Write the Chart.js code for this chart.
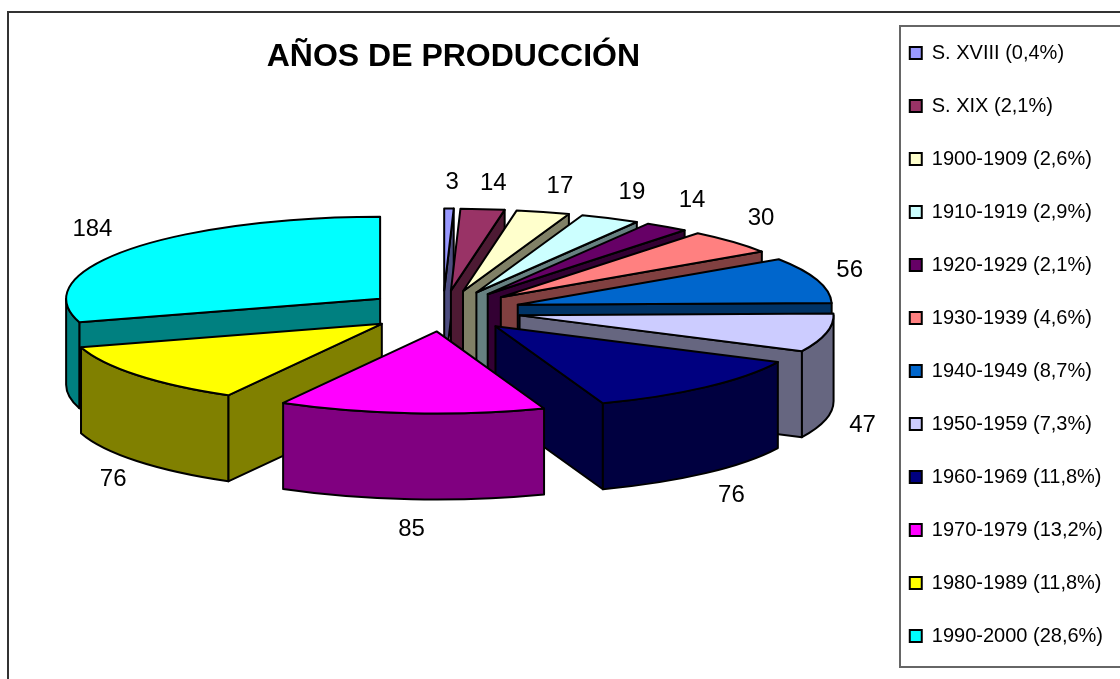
<!DOCTYPE html>
<html lang="es">
<head>
  <meta charset="UTF-8">
  <title>Años de producción</title>
  <script src="https://cdn.jsdelivr.net/npm/chart.js@4/dist/chart.umd.js"></script>
  <style>
    body { margin: 0; background: #fff; }
    canvas { display: block; }
  </style>
</head>
<body>
  <canvas id="mychart" width="1120" height="679"></canvas>

  <script type="text/javascript">
    const categories = ['S. XVIII', 'S. XIX', '1900-1909', '1910-1919', '1920-1929', '1930-1939',
      '1940-1949', '1950-1959', '1960-1969', '1970-1979', '1980-1989', '1990-2000'];
    const values = [3, 14, 17, 19, 14, 30, 56, 47, 76, 85, 76, 184];
    const percents = ['0,4', '2,1', '2,6', '2,9', '2,1', '4,6', '8,7', '7,3', '11,8', '13,2', '11,8', '28,6'];
    const topColors = ['#9999ff', '#993366', '#ffffcc', '#ccffff', '#660066', '#ff8080',
      '#0066cc', '#ccccff', '#000080', '#ff00ff', '#ffff00', '#00ffff'];
    const sideColors = ['#4d4d80', '#4d1a33', '#808066', '#668080', '#330033', '#804040',
      '#003366', '#666680', '#000040', '#800080', '#808000', '#008080'];

    const legendLabels = categories.map((c, i) => c + ' (' + percents[i] + '%)');

    // where the flattened pie sits on the page
    const pieX = 443, pieY = 311, pieRx = 314, pieRy = 82, pieDepth = 86;

    // the pie controller works out the angles, we only tilt and extrude its arcs
    const pie3d = {
      id: 'pie3d',
      beforeDraw(chart) {
        const ctx = chart.ctx;
        ctx.save();
        ctx.fillStyle = '#fff';
        ctx.fillRect(0, 0, chart.width, chart.height);
        ctx.strokeStyle = '#333';
        ctx.lineWidth = 2;
        ctx.strokeRect(8, 12, 1200, 800);
        ctx.strokeStyle = '#666';
        ctx.strokeRect(900, 26, 300, 641);
        ctx.restore();
      },
      beforeDatasetDraw(chart, args) {
        const ctx = chart.ctx;
        const arcs = args.meta.data;
        const order = arcs.map((a, i) => i).sort((a, b) => depthOf(arcs[a]) - depthOf(arcs[b]));
        ctx.save();
        ctx.lineWidth = 2;
        ctx.lineJoin = 'round';
        ctx.strokeStyle = '#000';
        order.forEach((i) => drawSlice(ctx, arcs[i], i));
        ctx.restore();
        drawValues(ctx, arcs);
        return false;
      }
    };

    function midAngle(arc) {
      return (arc.startAngle + arc.endAngle) / 2;
    }

    function depthOf(arc) {
      return Math.sin(midAngle(arc));
    }

    // arc space to page: returns the apex of a slice
    function project(arc) {
      const shift = arc.options.offset / 4 / arc.outerRadius;
      const mid = midAngle(arc);
      return {
        x: pieX + Math.cos(mid) * shift * pieRx,
        y: pieY + Math.sin(mid) * shift * pieRy
      };
    }

    function rim(p, angle, drop) {
      return [p.x + Math.cos(angle) * pieRx, p.y + Math.sin(angle) * pieRy + (drop || 0)];
    }

    function paint(ctx, color) {
      ctx.closePath();
      ctx.fillStyle = color;
      ctx.fill();
      ctx.stroke();
    }

    function drawWall(ctx, p, angle, color) {
      const r = rim(p, angle);
      ctx.beginPath();
      ctx.moveTo(p.x, p.y);
      ctx.lineTo(r[0], r[1]);
      ctx.lineTo(r[0], r[1] + pieDepth);
      ctx.lineTo(p.x, p.y + pieDepth);
      paint(ctx, color);
    }

    function drawSlice(ctx, arc, i) {
      const p = project(arc);
      const start = arc.startAngle, end = arc.endAngle;

      if (Math.cos(start) < 0) drawWall(ctx, p, start, sideColors[i]);
      if (Math.cos(end) > 0) drawWall(ctx, p, end, sideColors[i]);

      // only the part of the rim turned toward the viewer
      const from = Math.max(start, 0), to = Math.min(end, Math.PI);
      if (to > from) {
        ctx.beginPath();
        ctx.ellipse(p.x, p.y, pieRx, pieRy, 0, from, to);
        ctx.ellipse(p.x, p.y + pieDepth, pieRx, pieRy, 0, to, from, true);
        paint(ctx, sideColors[i]);
      }

      ctx.beginPath();
      ctx.moveTo(p.x, p.y);
      ctx.ellipse(p.x, p.y, pieRx, pieRy, 0, start, end);
      paint(ctx, topColors[i]);
    }

    function drawValues(ctx, arcs) {
      ctx.save();
      ctx.font = '24px "Liberation Sans"';
      ctx.fillStyle = '#000';
      ctx.textAlign = 'center';
      ctx.textBaseline = 'middle';
      arcs.forEach((arc, i) => {
        const p = project(arc);
        const mid = midAngle(arc);
        const c = Math.cos(mid), s = Math.sin(mid);
        const r = rim(p, mid, s > 0 ? pieDepth : 0);
        const text = String(values[i]);
        const w = ctx.measureText(text).width;
        // upper labels fan out faster than the lower ones
        const dx = s > 0 ? c * 34 + 3 : Math.sign(c) * Math.sqrt(Math.abs(c)) * (20 + w / 2);
        const dy = s > 0 ? s * 30 : Math.max(s * 34, -26);
        ctx.fillText(text, r[0] + dx, r[1] + dy);
      });
      ctx.restore();
    }

    new Chart(document.getElementById('mychart'), {
      type: 'pie',
      data: {
        labels: legendLabels,
        datasets: [{
          data: values,
          backgroundColor: topColors,
          borderColor: '#000',
          borderWidth: 2,
          offset: 200
        }]
      },
      options: {
        responsive: false,
        animation: false,
        layout: { padding: { left: 30, right: 7, top: 10, bottom: 0 } },
        plugins: {
          tooltip: { enabled: false },
          title: {
            display: true,
            text: 'AÑOS DE PRODUCCIÓN',
            fullSize: false,
            color: '#000',
            font: { family: '"Liberation Sans"', size: 32, weight: 'bold' },
            padding: { top: 28, bottom: 0 }
          },
          legend: {
            position: 'right',
            onClick: null,
            labels: {
              color: '#000',
              font: { family: '"Liberation Sans"', size: 20 },
              boxWidth: 12,
              boxHeight: 12,
              padding: 33
            }
          }
        }
      },
      plugins: [pie3d]
    });
  </script>
</body>
</html>
